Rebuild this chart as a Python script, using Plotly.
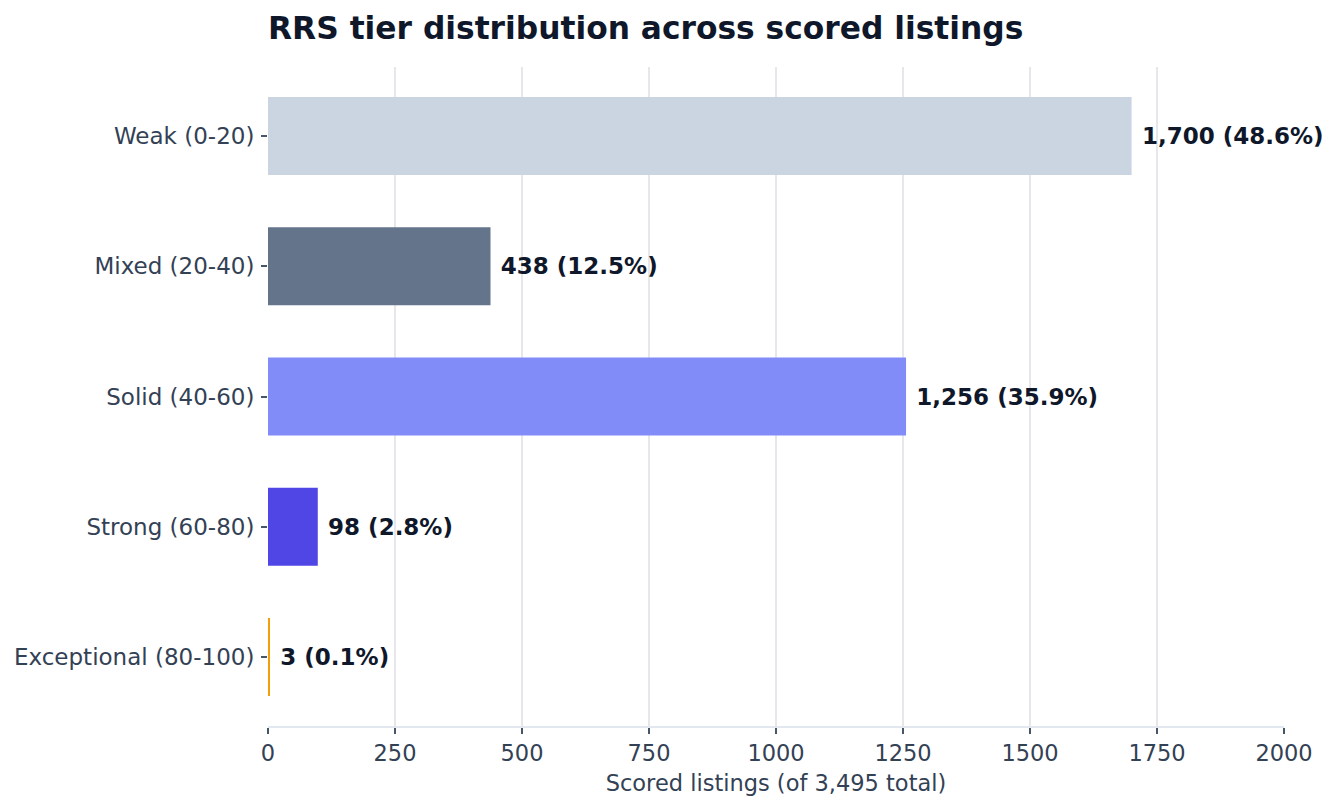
import plotly.graph_objects as go

# tier data
tiers = ["Weak (0-20)", "Mixed (20-40)", "Solid (40-60)", "Strong (60-80)", "Exceptional (80-100)"]
counts = [1700, 438, 1256, 98, 3]
colors = ["#cbd5e1", "#64748b", "#818cf8", "#4f46e5", "#f59e0b"]
total = 3495

labels = [f"\u00a0<b>{c:,} ({c / total * 100:.1f}%)</b>" for c in counts]

fig = go.Figure()
fig.add_trace(go.Bar(
    x=counts, y=tiers, orientation="h",
    marker=dict(color=colors, line=dict(width=0)),
    width=0.6,
    text=labels, textposition="outside",
    textfont=dict(size=23, color="#0f172a"),
    cliponaxis=False,
    hoverinfo="skip",
))

fig.update_layout(
    width=1340, height=810,
    font=dict(family="DejaVu Sans", color="#334155", size=23),
    title=dict(text="<b>RRS tier distribution across scored listings</b>",
               x=0, xref="paper", y=0.975, yanchor="middle",
               font=dict(size=31.3, color="#0f172a")),
    plot_bgcolor="white", paper_bgcolor="white",
    margin=dict(l=260, r=64, t=59, b=92, autoexpand=False),
    showlegend=False,
)
fig.update_xaxes(
    range=[0, 2000], dtick=250,
    showgrid=True, gridcolor="#e5e7eb", gridwidth=1.5,
    showline=True, linecolor="#e2e8f0", linewidth=1.5,
    ticks="outside", tickcolor="#475569", ticklen=6, tickwidth=1.5,
    zeroline=False, automargin=False,
    title=dict(text="Scored listings (of 3,495 total)", font=dict(size=22.5), standoff=10),
    tickfont=dict(size=22.5),
)
fig.update_yaxes(
    categoryorder="array", categoryarray=tiers, range=[4.53, -0.53],
    ticks="outside", tickcolor="#475569", ticklen=6, tickwidth=1.5,
    showline=False, showgrid=False, automargin=False,
    tickfont=dict(size=23), ticklabelstandoff=2,
)

fig.write_html("out.html")
